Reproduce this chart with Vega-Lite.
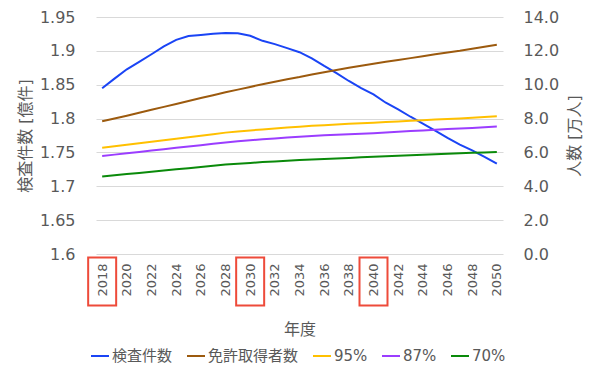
{
  "$schema": "https://vega.github.io/schema/vega-lite/v6.json",
  "width": 407,
  "height": 237,
  "autosize": {"type": "none"},
  "padding": {"left": 96, "top": 17, "right": 102, "bottom": 119},
  "background": "#ffffff",
  "config": {
    "view": {"stroke": null},
    "font": "DejaVu Sans, Noto Sans CJK JP",
    "axis": {"labelColor": "#595959", "titleColor": "#595959", "titleFontWeight": "normal", "domain": false, "ticks": false, "tickSize": 0, "labelFont": "DejaVu Sans, Noto Sans CJK JP", "titleFont": "DejaVu Sans, Noto Sans CJK JP"}
  },
  "datasets": {
    "series": [
      {"year": 2018, "series": "検査件数", "value": 1.8447},
      {"year": 2019, "series": "検査件数", "value": 1.859},
      {"year": 2020, "series": "検査件数", "value": 1.8728},
      {"year": 2021, "series": "検査件数", "value": 1.8837},
      {"year": 2022, "series": "検査件数", "value": 1.895},
      {"year": 2023, "series": "検査件数", "value": 1.9065},
      {"year": 2024, "series": "検査件数", "value": 1.9163},
      {"year": 2025, "series": "検査件数", "value": 1.9218},
      {"year": 2026, "series": "検査件数", "value": 1.9233},
      {"year": 2027, "series": "検査件数", "value": 1.9252},
      {"year": 2028, "series": "検査件数", "value": 1.9262},
      {"year": 2029, "series": "検査件数", "value": 1.926},
      {"year": 2030, "series": "検査件数", "value": 1.9223},
      {"year": 2031, "series": "検査件数", "value": 1.9148},
      {"year": 2032, "series": "検査件数", "value": 1.91},
      {"year": 2033, "series": "検査件数", "value": 1.904},
      {"year": 2034, "series": "検査件数", "value": 1.898},
      {"year": 2035, "series": "検査件数", "value": 1.889},
      {"year": 2036, "series": "検査件数", "value": 1.8777},
      {"year": 2037, "series": "検査件数", "value": 1.867},
      {"year": 2038, "series": "検査件数", "value": 1.8555},
      {"year": 2039, "series": "検査件数", "value": 1.845},
      {"year": 2040, "series": "検査件数", "value": 1.8357},
      {"year": 2041, "series": "検査件数", "value": 1.8234},
      {"year": 2042, "series": "検査件数", "value": 1.8135},
      {"year": 2043, "series": "検査件数", "value": 1.8027},
      {"year": 2044, "series": "検査件数", "value": 1.7927},
      {"year": 2045, "series": "検査件数", "value": 1.7823},
      {"year": 2046, "series": "検査件数", "value": 1.7715},
      {"year": 2047, "series": "検査件数", "value": 1.7616},
      {"year": 2048, "series": "検査件数", "value": 1.7531},
      {"year": 2049, "series": "検査件数", "value": 1.7433},
      {"year": 2050, "series": "検査件数", "value": 1.7334},
      {"year": 2018, "series": "免許取得者数", "value": 7.84},
      {"year": 2019, "series": "免許取得者数", "value": 8.0},
      {"year": 2020, "series": "免許取得者数", "value": 8.17},
      {"year": 2021, "series": "免許取得者数", "value": 8.34},
      {"year": 2022, "series": "免許取得者数", "value": 8.52},
      {"year": 2023, "series": "免許取得者数", "value": 8.69},
      {"year": 2024, "series": "免許取得者数", "value": 8.86},
      {"year": 2025, "series": "免許取得者数", "value": 9.04},
      {"year": 2026, "series": "免許取得者数", "value": 9.21},
      {"year": 2027, "series": "免許取得者数", "value": 9.38},
      {"year": 2028, "series": "免許取得者数", "value": 9.55},
      {"year": 2029, "series": "免許取得者数", "value": 9.71},
      {"year": 2030, "series": "免許取得者数", "value": 9.87},
      {"year": 2031, "series": "免許取得者数", "value": 10.03},
      {"year": 2032, "series": "免許取得者数", "value": 10.18},
      {"year": 2033, "series": "免許取得者数", "value": 10.32},
      {"year": 2034, "series": "免許取得者数", "value": 10.45},
      {"year": 2035, "series": "免許取得者数", "value": 10.6},
      {"year": 2036, "series": "免許取得者数", "value": 10.74},
      {"year": 2037, "series": "免許取得者数", "value": 10.87},
      {"year": 2038, "series": "免許取得者数", "value": 11.0},
      {"year": 2039, "series": "免許取得者数", "value": 11.12},
      {"year": 2040, "series": "免許取得者数", "value": 11.24},
      {"year": 2041, "series": "免許取得者数", "value": 11.35},
      {"year": 2042, "series": "免許取得者数", "value": 11.46},
      {"year": 2043, "series": "免許取得者数", "value": 11.57},
      {"year": 2044, "series": "免許取得者数", "value": 11.68},
      {"year": 2045, "series": "免許取得者数", "value": 11.8},
      {"year": 2046, "series": "免許取得者数", "value": 11.9},
      {"year": 2047, "series": "免許取得者数", "value": 12.0},
      {"year": 2048, "series": "免許取得者数", "value": 12.12},
      {"year": 2049, "series": "免許取得者数", "value": 12.24},
      {"year": 2050, "series": "免許取得者数", "value": 12.36},
      {"year": 2018, "series": "95%", "value": 6.27},
      {"year": 2019, "series": "95%", "value": 6.36},
      {"year": 2020, "series": "95%", "value": 6.45},
      {"year": 2021, "series": "95%", "value": 6.54},
      {"year": 2022, "series": "95%", "value": 6.63},
      {"year": 2023, "series": "95%", "value": 6.72},
      {"year": 2024, "series": "95%", "value": 6.81},
      {"year": 2025, "series": "95%", "value": 6.9},
      {"year": 2026, "series": "95%", "value": 6.99},
      {"year": 2027, "series": "95%", "value": 7.08},
      {"year": 2028, "series": "95%", "value": 7.17},
      {"year": 2029, "series": "95%", "value": 7.24},
      {"year": 2030, "series": "95%", "value": 7.3},
      {"year": 2031, "series": "95%", "value": 7.36},
      {"year": 2032, "series": "95%", "value": 7.42},
      {"year": 2033, "series": "95%", "value": 7.47},
      {"year": 2034, "series": "95%", "value": 7.52},
      {"year": 2035, "series": "95%", "value": 7.57},
      {"year": 2036, "series": "95%", "value": 7.61},
      {"year": 2037, "series": "95%", "value": 7.65},
      {"year": 2038, "series": "95%", "value": 7.69},
      {"year": 2039, "series": "95%", "value": 7.73},
      {"year": 2040, "series": "95%", "value": 7.76},
      {"year": 2041, "series": "95%", "value": 7.8},
      {"year": 2042, "series": "95%", "value": 7.83},
      {"year": 2043, "series": "95%", "value": 7.87},
      {"year": 2044, "series": "95%", "value": 7.9},
      {"year": 2045, "series": "95%", "value": 7.94},
      {"year": 2046, "series": "95%", "value": 7.97},
      {"year": 2047, "series": "95%", "value": 8.01},
      {"year": 2048, "series": "95%", "value": 8.05},
      {"year": 2049, "series": "95%", "value": 8.09},
      {"year": 2050, "series": "95%", "value": 8.14},
      {"year": 2018, "series": "87%", "value": 5.79},
      {"year": 2019, "series": "87%", "value": 5.87},
      {"year": 2020, "series": "87%", "value": 5.95},
      {"year": 2021, "series": "87%", "value": 6.03},
      {"year": 2022, "series": "87%", "value": 6.11},
      {"year": 2023, "series": "87%", "value": 6.19},
      {"year": 2024, "series": "87%", "value": 6.27},
      {"year": 2025, "series": "87%", "value": 6.35},
      {"year": 2026, "series": "87%", "value": 6.43},
      {"year": 2027, "series": "87%", "value": 6.51},
      {"year": 2028, "series": "87%", "value": 6.59},
      {"year": 2029, "series": "87%", "value": 6.66},
      {"year": 2030, "series": "87%", "value": 6.72},
      {"year": 2031, "series": "87%", "value": 6.78},
      {"year": 2032, "series": "87%", "value": 6.83},
      {"year": 2033, "series": "87%", "value": 6.88},
      {"year": 2034, "series": "87%", "value": 6.93},
      {"year": 2035, "series": "87%", "value": 6.97},
      {"year": 2036, "series": "87%", "value": 7.01},
      {"year": 2037, "series": "87%", "value": 7.05},
      {"year": 2038, "series": "87%", "value": 7.08},
      {"year": 2039, "series": "87%", "value": 7.11},
      {"year": 2040, "series": "87%", "value": 7.14},
      {"year": 2041, "series": "87%", "value": 7.18},
      {"year": 2042, "series": "87%", "value": 7.22},
      {"year": 2043, "series": "87%", "value": 7.26},
      {"year": 2044, "series": "87%", "value": 7.3},
      {"year": 2045, "series": "87%", "value": 7.34},
      {"year": 2046, "series": "87%", "value": 7.38},
      {"year": 2047, "series": "87%", "value": 7.41},
      {"year": 2048, "series": "87%", "value": 7.45},
      {"year": 2049, "series": "87%", "value": 7.49},
      {"year": 2050, "series": "87%", "value": 7.53},
      {"year": 2018, "series": "70%", "value": 4.58},
      {"year": 2019, "series": "70%", "value": 4.65},
      {"year": 2020, "series": "70%", "value": 4.72},
      {"year": 2021, "series": "70%", "value": 4.79},
      {"year": 2022, "series": "70%", "value": 4.86},
      {"year": 2023, "series": "70%", "value": 4.93},
      {"year": 2024, "series": "70%", "value": 5.0},
      {"year": 2025, "series": "70%", "value": 5.07},
      {"year": 2026, "series": "70%", "value": 5.14},
      {"year": 2027, "series": "70%", "value": 5.21},
      {"year": 2028, "series": "70%", "value": 5.28},
      {"year": 2029, "series": "70%", "value": 5.33},
      {"year": 2030, "series": "70%", "value": 5.38},
      {"year": 2031, "series": "70%", "value": 5.43},
      {"year": 2032, "series": "70%", "value": 5.47},
      {"year": 2033, "series": "70%", "value": 5.51},
      {"year": 2034, "series": "70%", "value": 5.55},
      {"year": 2035, "series": "70%", "value": 5.58},
      {"year": 2036, "series": "70%", "value": 5.61},
      {"year": 2037, "series": "70%", "value": 5.64},
      {"year": 2038, "series": "70%", "value": 5.67},
      {"year": 2039, "series": "70%", "value": 5.71},
      {"year": 2040, "series": "70%", "value": 5.74},
      {"year": 2041, "series": "70%", "value": 5.77},
      {"year": 2042, "series": "70%", "value": 5.8},
      {"year": 2043, "series": "70%", "value": 5.83},
      {"year": 2044, "series": "70%", "value": 5.86},
      {"year": 2045, "series": "70%", "value": 5.89},
      {"year": 2046, "series": "70%", "value": 5.92},
      {"year": 2047, "series": "70%", "value": 5.95},
      {"year": 2048, "series": "70%", "value": 5.98},
      {"year": 2049, "series": "70%", "value": 6.0},
      {"year": 2050, "series": "70%", "value": 6.03}
    ],
    "boxes": [
      {"year": 2018},
      {"year": 2030},
      {"year": 2040}
    ]
  },
  "encoding": {
    "x": {
      "field": "year",
      "type": "quantitative",
      "scale": {"domain": [2017.5, 2050.5], "nice": false, "zero": false},
      "axis": {
        "title": "年度",
        "values": [2018, 2020, 2022, 2024, 2026, 2028, 2030, 2032, 2034, 2036, 2038, 2040, 2042, 2044, 2046, 2048, 2050],
        "format": "d",
        "labelAngle": 270,
        "labelFontSize": 13,
        "labelPadding": 9,
        "grid": false,
        "titleFontSize": 16,
        "titlePadding": 25,
        "labelOverlap": false
      }
    }
  },
  "layer": [
    {
      "layer": [
        {
          "data": {"name": "series"},
          "transform": [{"filter": "datum.series === '検査件数'"}],
          "mark": {"type": "line", "strokeWidth": 2},
          "encoding": {
            "y": {
              "field": "value",
              "type": "quantitative",
              "scale": {"domain": [1.6, 1.95], "nice": false, "zero": false},
              "axis": {
                "title": "検査件数 [億件]",
                "orient": "left",
                "values": [1.6, 1.65, 1.7, 1.75, 1.8, 1.85, 1.9, 1.95],
                "format": "~g",
                "labelFontSize": 16,
                "labelPadding": 21,
                "labelOverlap": false,
                "grid": true,
                "gridColor": "#D9D9D9",
                "gridWidth": 1,
                "titleFontSize": 16,
                "titlePadding": 6
              }
            },
            "color": {
              "field": "series",
              "type": "nominal",
              "scale": {
                "domain": ["検査件数", "免許取得者数", "95%", "87%", "70%"],
                "range": ["#1A44F5", "#9C5A0E", "#FFC000", "#9B3DFF", "#0A8A0A"]
              },
              "legend": {
                "title": null,
                "orient": "none",
                "direction": "horizontal",
                "legendX": -6,
                "legendY": 329,
                "padding": 0,
                "symbolType": "stroke",
                "symbolSize": 324,
                "symbolStrokeWidth": 2,
                "labelFontSize": 15,
                "labelColor": "#595959",
                "labelFont": "DejaVu Sans, Noto Sans CJK JP",
                "labelOffset": 2,
                "columnPadding": 10
              }
            }
          }
        },
        {
          "data": {"name": "boxes"},
          "mark": {
            "type": "point",
            "shape": "M-0.5833,-1H0.5833V1H-0.5833Z",
            "size": 2304,
            "filled": false,
            "stroke": "#EE4B3A",
            "strokeWidth": 2,
            "opacity": 1
          },
          "encoding": {
            "y": {
              "datum": 1.5595,
              "type": "quantitative",
              "scale": {"domain": [1.6, 1.95], "nice": false, "zero": false},
              "axis": {
                "title": "検査件数 [億件]",
                "orient": "left",
                "values": [1.6, 1.65, 1.7, 1.75, 1.8, 1.85, 1.9, 1.95],
                "format": "~g",
                "labelFontSize": 16,
                "labelPadding": 21,
                "labelOverlap": false,
                "grid": true,
                "gridColor": "#D9D9D9",
                "gridWidth": 1,
                "titleFontSize": 16,
                "titlePadding": 6
              }
            }
          }
        }
      ]
    },
    {
      "data": {"name": "series"},
      "transform": [{"filter": "datum.series !== '検査件数'"}],
      "mark": {"type": "line", "strokeWidth": 2},
      "encoding": {
        "y": {
          "field": "value",
          "type": "quantitative",
          "scale": {"domain": [0, 14], "nice": false},
          "axis": {
            "title": "人数 [万人]",
            "orient": "right",
            "values": [0, 2, 4, 6, 8, 10, 12, 14],
            "format": ".1f",
            "labelFontSize": 16,
            "labelPadding": 20,
            "grid": false,
            "titleFontSize": 16,
            "titleAngle": 270,
            "titleBaseline": "top",
            "titlePadding": 8
          }
        },
        "color": {"field": "series", "type": "nominal"}
      }
    }
  ],
  "resolve": {"scale": {"y": "independent"}}
}
